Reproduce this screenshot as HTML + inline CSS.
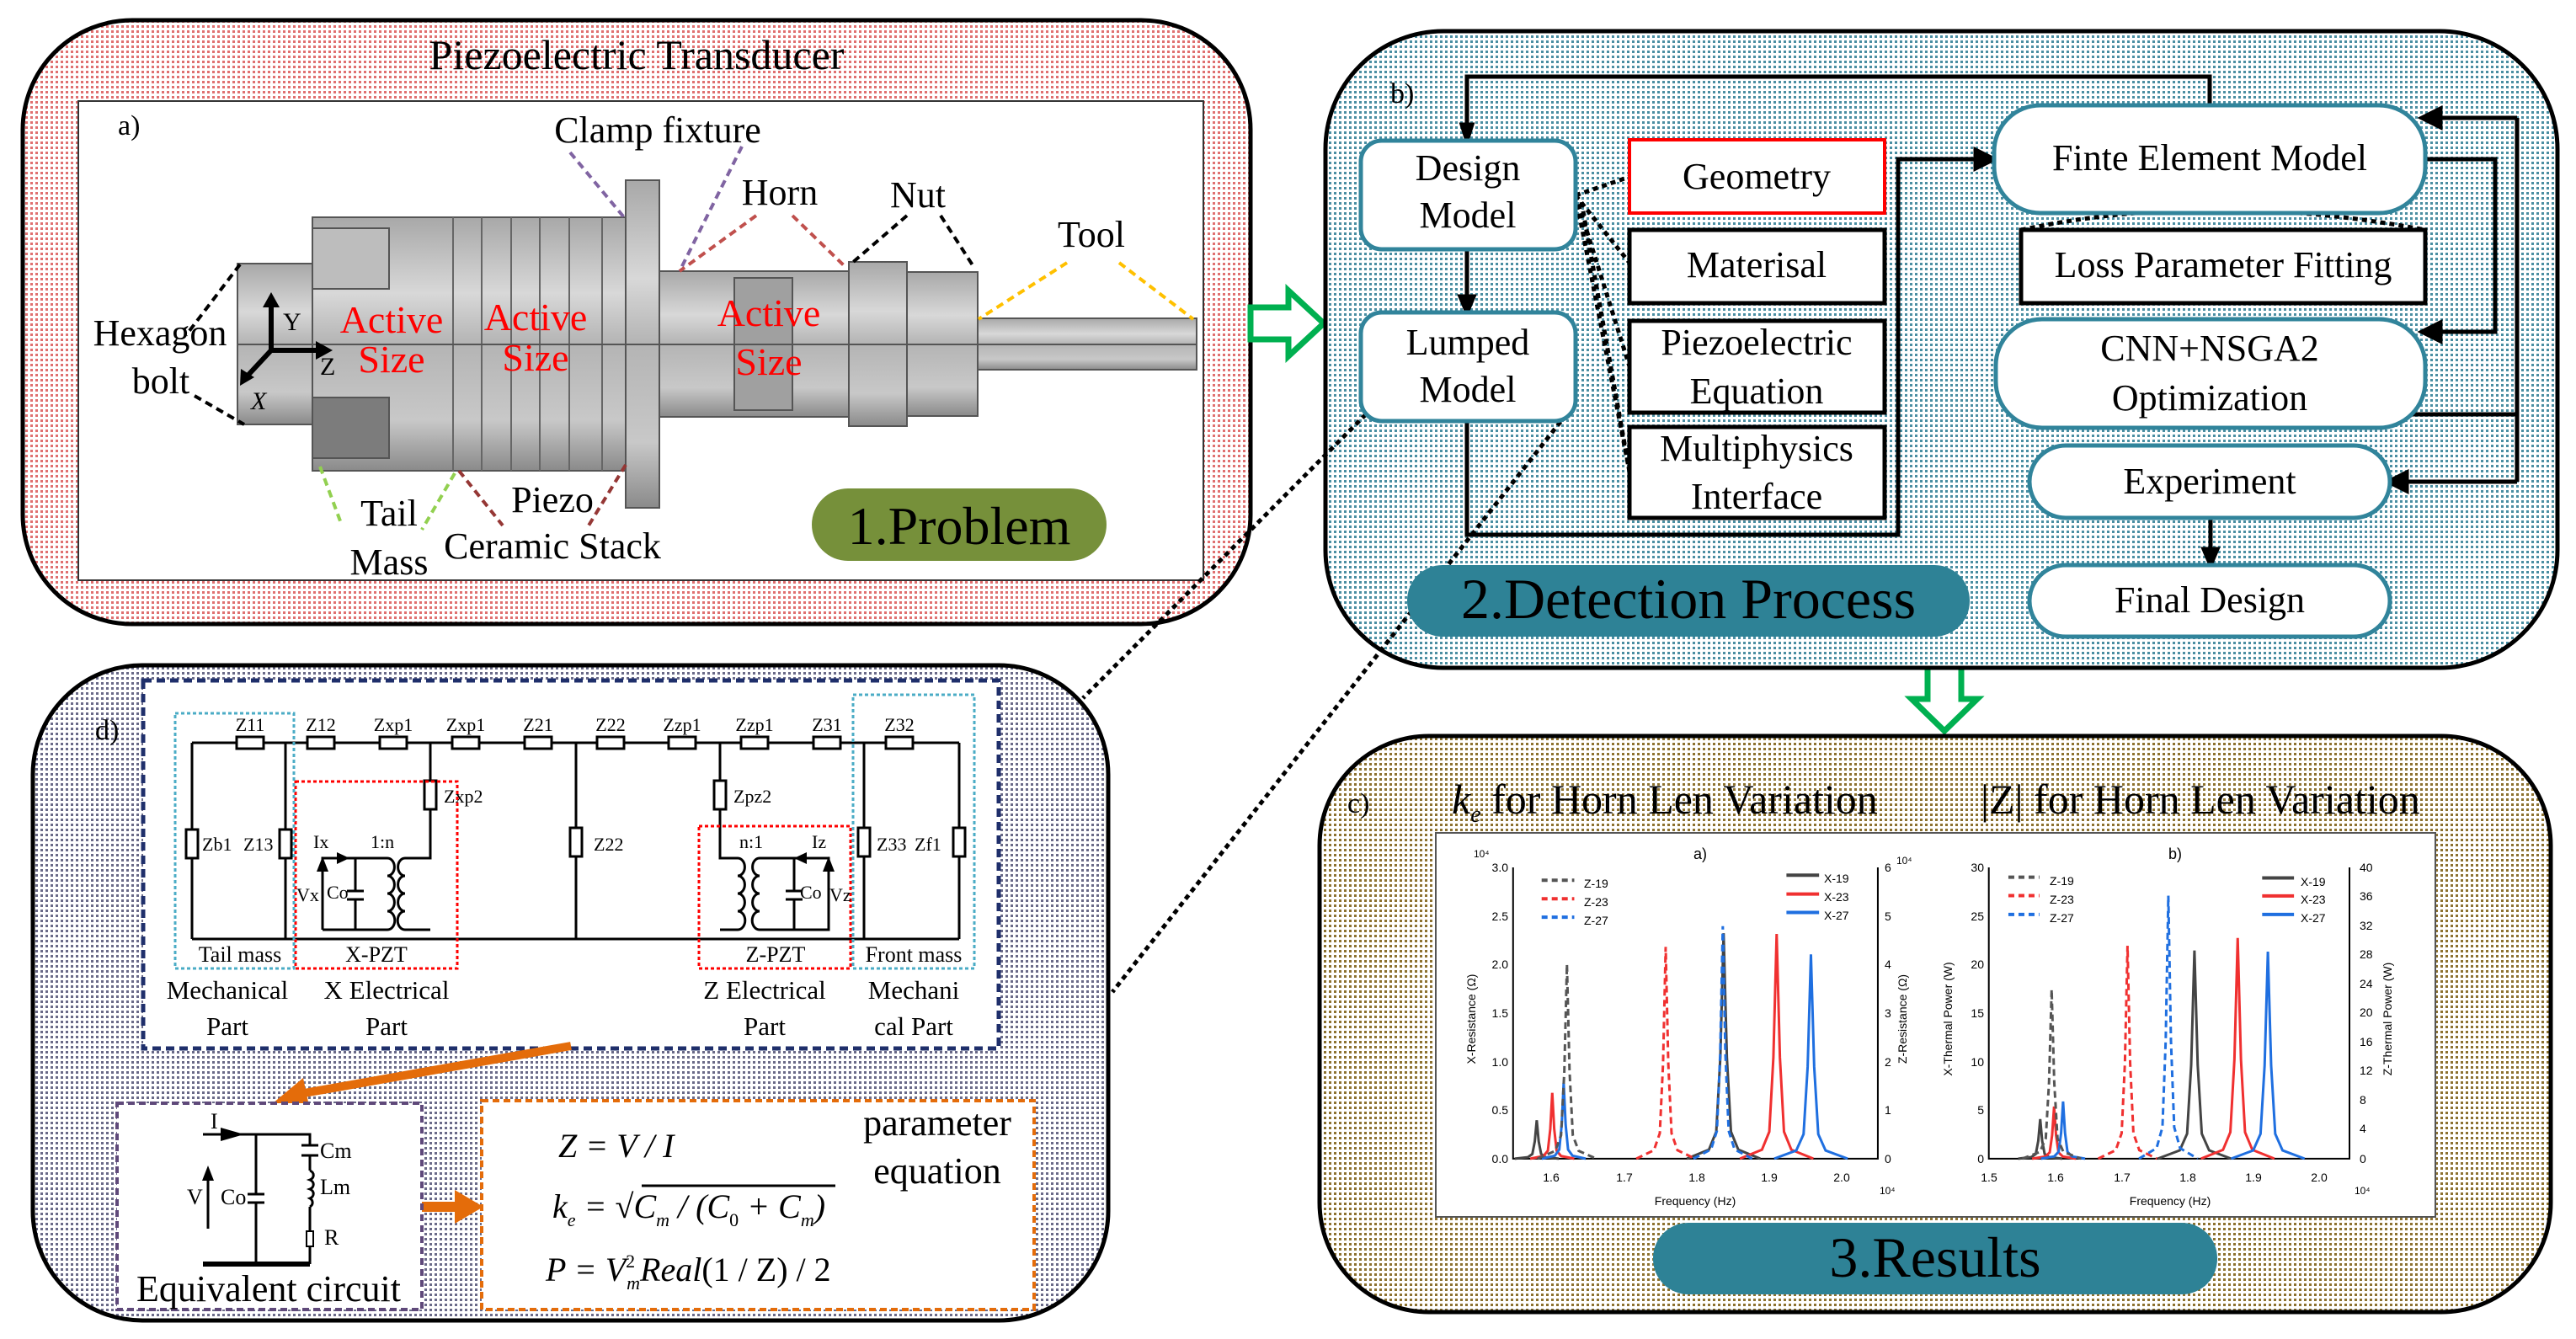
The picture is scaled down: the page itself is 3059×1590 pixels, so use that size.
<!DOCTYPE html>
<html><head><meta charset="utf-8"><style>html,body{margin:0;padding:0;background:#fff}svg{display:block}</style></head>
<body>
<svg xmlns="http://www.w3.org/2000/svg" width="3059" height="1590" viewBox="0 0 3059 1590" font-family="Liberation Serif, serif">
<defs>
<pattern id="p1" width="6" height="6" patternUnits="userSpaceOnUse"><rect width="6" height="6" fill="#fff"/><rect width="3" height="3" fill="#e07070"/></pattern>
<pattern id="p2" width="6" height="6" patternUnits="userSpaceOnUse"><rect width="6" height="6" fill="#fff"/><rect width="3" height="3" fill="#4a8ea2"/></pattern>
<pattern id="p3" width="6" height="6" patternUnits="userSpaceOnUse"><rect width="6" height="6" fill="#fff"/><rect width="3" height="3" fill="#8d7230"/></pattern>
<pattern id="p4" width="6" height="6" patternUnits="userSpaceOnUse"><rect width="6" height="6" fill="#fff"/><rect width="3" height="3" fill="#6a6a88"/></pattern>
<linearGradient id="gm" x1="0" y1="0" x2="0" y2="1"><stop offset="0" stop-color="#a8a8a8"/><stop offset="0.3" stop-color="#d8d8d8"/><stop offset="0.5" stop-color="#b4b4b4"/><stop offset="0.8" stop-color="#c8c8c8"/><stop offset="1" stop-color="#8a8a8a"/></linearGradient>
<path id="pk" d="M-45,0 L-18,-0.04 L-9,-0.12 L-4,-0.45 L0,-1 L4,-0.45 L9,-0.12 L18,-0.04 L45,0" fill="none" vector-effect="non-scaling-stroke"/>
</defs>

<!-- Panel 1 -->
<rect x="27" y="24" width="1458" height="717" rx="130" ry="130" fill="url(#p1)" stroke="#000" stroke-width="5"/>
<text x="756" y="82" font-size="50" text-anchor="middle">Piezoelectric Transducer</text>
<rect x="93" y="120" width="1336" height="569" fill="#fff" stroke="#333" stroke-width="2"/>
<text x="140" y="160" font-size="34">a)</text>
<rect x="282" y="313" width="89" height="191" fill="url(#gm)" stroke="#555" stroke-width="2"/>
<rect x="371" y="258" width="372" height="301" fill="url(#gm)" stroke="#555" stroke-width="2"/>
<rect x="371" y="271" width="91" height="72" fill="#bdbdbd" stroke="#555" stroke-width="2"/>
<rect x="371" y="472" width="91" height="72" fill="#7c7c7c" stroke="#555" stroke-width="2"/>
<g stroke="#666" stroke-width="2"><line x1="538" y1="258" x2="538" y2="559"/><line x1="572" y1="258" x2="572" y2="559"/><line x1="607" y1="258" x2="607" y2="559"/><line x1="641" y1="258" x2="641" y2="559"/><line x1="676" y1="258" x2="676" y2="559"/><line x1="715" y1="258" x2="715" y2="559"/></g>
<rect x="743" y="214" width="40" height="389" fill="url(#gm)" stroke="#555" stroke-width="2"/>
<rect x="783" y="322" width="225" height="173" fill="url(#gm)" stroke="#555" stroke-width="2"/>
<rect x="872" y="330" width="69" height="157" fill="#a0a0a0" stroke="#555" stroke-width="2"/>
<rect x="1008" y="311" width="69" height="195" fill="url(#gm)" stroke="#555" stroke-width="2"/>
<rect x="1077" y="323" width="84" height="171" fill="url(#gm)" stroke="#555" stroke-width="2"/>
<rect x="1161" y="378" width="260" height="61" fill="url(#gm)" stroke="#555" stroke-width="2"/>
<line x1="282" y1="409" x2="1421" y2="409" stroke="#555" stroke-width="2"/>
<line x1="322" y1="416" x2="322" y2="360" stroke="#000" stroke-width="6"/><path d="M312,365 L322,347 L332,365Z"/>
<line x1="322" y1="416" x2="380" y2="416" stroke="#000" stroke-width="6"/><path d="M375,405 L395,416 L375,427Z"/>
<line x1="322" y1="416" x2="295" y2="445" stroke="#000" stroke-width="6"/><path d="M286,438 L285,458 L302,448Z"/>
<text x="336" y="392" font-size="30">Y</text><text x="380" y="445" font-size="30">Z</text><text x="298" y="486" font-size="30" font-style="italic">X</text>
<g fill="#f00" font-size="46" text-anchor="middle"><text x="465" y="395">Active</text><text x="465" y="442">Size</text><text x="636" y="392">Active</text><text x="636" y="440">Size</text><text x="913" y="387">Active</text><text x="913" y="445">Size</text></g>
<g fill="none" stroke-width="4" stroke-dasharray="9,6">
<path d="M677,181 L741,258 M881,174 L807,322" stroke="#8064a2"/>
<path d="M898,256 L807,322 M941,256 L1005,318" stroke="#c0504d"/>
<path d="M1077,256 L1011,313 M1117,256 L1157,318" stroke="#000"/>
<path d="M1267,312 L1162,379 M1329,312 L1417,379" stroke="#ffc000"/>
<path d="M285,314 L221,398 M231,470 L290,504" stroke="#000"/>
<path d="M380,554 L406,624 M540,562 L501,629" stroke="#92d050"/>
<path d="M545,559 L597,624 M743,552 L699,624" stroke="#953735"/>
</g>
<g font-size="44" text-anchor="middle">
<text x="781" y="169">Clamp fixture</text><text x="926" y="243">Horn</text><text x="1090" y="246">Nut</text><text x="1296" y="293">Tool</text>
<text x="190" y="410">Hexagon</text><text x="191" y="467">bolt</text>
<text x="462" y="624">Tail</text><text x="462" y="682">Mass</text>
<text x="656" y="608">Piezo</text><text x="656" y="663">Ceramic Stack</text>
</g>
<rect x="964" y="580" width="350" height="86" rx="43" fill="#76903a"/>
<text x="1139" y="646" font-size="64" text-anchor="middle">1.Problem</text>

<path d="M1485,365 L1530,365 L1530,345 L1572,384 L1530,423 L1530,403 L1485,403 Z" fill="#fff" stroke="#00b050" stroke-width="7"/>
<path d="M2289,790 L2289,830 L2270,830 L2309,868 L2348,830 L2329,830 L2329,790 Z" fill="#fff" stroke="#00b050" stroke-width="7"/>

<!-- Panel 2 -->
<rect x="1574" y="37" width="1463" height="756" rx="140" ry="140" fill="url(#p2)" stroke="#000" stroke-width="5"/>
<text x="1651" y="122" font-size="34">b)</text>
<g fill="none" stroke="#000" stroke-width="5">
<path d="M2624,125 L2624,91 L1742,91 L1742,150" /><path d="M1736,148 L1742,167 L1748,148Z" fill="#000"/>
<path d="M1742,296 L1742,355"/><path d="M1734,352 L1742,371 L1750,352Z" fill="#000"/>
<path d="M1742,500 L1742,635 L2254,635 L2254,189 L2350,189"/><path d="M2346,178 L2368,189 L2346,200Z" fill="#000"/>
<path d="M2880,189 L2963,189 L2963,394 L2895,394"/><path d="M2898,383 L2876,394 L2898,405Z" fill="#000"/>
<path d="M2860,492 L2989,492 M2989,140 L2989,572 M2989,140 L2895,140 M2989,572 L2855,572"/>
<path d="M2898,129 L2876,140 L2898,151Z" fill="#000"/><path d="M2858,561 L2836,572 L2858,583Z" fill="#000"/>
<path d="M2625,615 L2625,655"/><path d="M2617,652 L2625,671 L2633,652Z" fill="#000"/>
</g>
<g fill="none" stroke="#000" stroke-width="5" stroke-dasharray="6,5">
<path d="M1871,232 L1935,210 M1871,232 L1935,312 M1871,232 L1935,435 M1871,232 L1935,560 M1878,240 L1935,560"/>
<path d="M2400,273 Q2625,225 2880,273"/>
<path d="M1622,492 L1286,829"/><path d="M1860,492 L1321,1178"/>
</g>
<g fill="#fff" stroke="#31849b" stroke-width="5">
<rect x="1616" y="167" width="255" height="129" rx="25"/>
<rect x="1616" y="371" width="255" height="129" rx="25"/>
<rect x="2368" y="125" width="512" height="128" rx="55"/>
<rect x="2370" y="379" width="510" height="129" rx="55"/>
<rect x="2410" y="529" width="428" height="86" rx="43"/>
<rect x="2410" y="671" width="428" height="85" rx="43"/>
</g>
<rect x="1935" y="166" width="303" height="87" fill="#fff" stroke="#f00" stroke-width="4"/>
<g fill="#fff" stroke="#000" stroke-width="5">
<rect x="1935" y="273" width="303" height="87"/><rect x="1935" y="381" width="303" height="109"/><rect x="1935" y="507" width="303" height="108"/>
<rect x="2400" y="273" width="480" height="87"/>
</g>
<rect x="1671" y="671" width="668" height="85" rx="42" fill="#2e8296"/>
<g font-size="44" text-anchor="middle">
<text x="1743" y="214">Design</text><text x="1743" y="270">Model</text>
<text x="1743" y="421">Lumped</text><text x="1743" y="477">Model</text>
<text x="2086" y="224">Geometry</text><text x="2086" y="329">Materisal</text>
<text x="2086" y="421">Piezoelectric</text><text x="2086" y="479">Equation</text>
<text x="2086" y="547">Multiphysics</text><text x="2086" y="604">Interface</text>
<text x="2624" y="202">Finte Element Model</text><text x="2640" y="329">Loss Parameter Fitting</text>
<text x="2624" y="428">CNN+NSGA2</text><text x="2624" y="487">Optimization</text>
<text x="2624" y="586">Experiment</text><text x="2624" y="727">Final Design</text>
</g>
<text x="2005" y="734" font-size="68" text-anchor="middle">2.Detection Process</text>

<!-- Panel 3 -->
<rect x="1567" y="874" width="1462" height="684" rx="130" ry="130" fill="url(#p3)" stroke="#000" stroke-width="5"/>
<text x="1600" y="965" font-size="34">c)</text>
<text x="1724" y="966" font-size="50"><tspan font-style="italic">k</tspan><tspan font-size="28" font-style="italic" dy="10">e</tspan><tspan dy="-10"> for Horn Len Variation</tspan></text>
<text x="2352" y="966" font-size="50">|Z| for Horn Len Variation</text>
<rect x="1705" y="989" width="1187" height="456" fill="#fff" stroke="#555" stroke-width="2"/>
<g transform="translate(1540,860) scale(0.969,0.4656)">
<g fill="none" stroke="#000" stroke-width="2">
<path d="M265,365 L265,1108 L712,1108 L712,365" vector-effect="non-scaling-stroke"/>
<path d="M848,365 L848,1108 L1290,1108 L1290,365" vector-effect="non-scaling-stroke"/>
</g>
<g stroke-width="3">
<use href="#pk" transform="translate(294,1108) scale(0.6,98)" stroke="#444"/>
<use href="#pk" transform="translate(523,1108) scale(1,575)" stroke="#444"/>
<use href="#pk" transform="translate(313,1108) scale(0.6,168)" stroke="#f03030"/>
<use href="#pk" transform="translate(588,1108) scale(1,573)" stroke="#f03030"/>
<use href="#pk" transform="translate(327,1108) scale(0.6,193)" stroke="#1f6fe0"/>
<use href="#pk" transform="translate(630,1108) scale(1,521)" stroke="#1f6fe0"/>
<use href="#pk" transform="translate(331,1108) scale(0.8,496)" stroke="#555" stroke-dasharray="8,5"/>
<use href="#pk" transform="translate(452,1108) scale(0.8,540)" stroke="#f03030" stroke-dasharray="8,5"/>
<use href="#pk" transform="translate(522,1108) scale(0.8,593)" stroke="#1f6fe0" stroke-dasharray="8,5"/>
<use href="#pk" transform="translate(911,1108) scale(0.6,101)" stroke="#444"/>
<use href="#pk" transform="translate(1100,1108) scale(1,531)" stroke="#444"/>
<use href="#pk" transform="translate(928,1108) scale(0.6,133)" stroke="#f03030"/>
<use href="#pk" transform="translate(1153,1108) scale(1,563)" stroke="#f03030"/>
<use href="#pk" transform="translate(939,1108) scale(0.6,146)" stroke="#1f6fe0"/>
<use href="#pk" transform="translate(1190,1108) scale(1,528)" stroke="#1f6fe0"/>
<use href="#pk" transform="translate(925,1108) scale(0.8,432)" stroke="#555" stroke-dasharray="8,5"/>
<use href="#pk" transform="translate(1018,1108) scale(0.8,543)" stroke="#f03030" stroke-dasharray="8,5"/>
<use href="#pk" transform="translate(1068,1108) scale(0.8,671)" stroke="#1f6fe0" stroke-dasharray="8,5"/>
</g>
<g stroke-width="4">
<path d="M300,398 L340,398" stroke="#555" stroke-dasharray="7,5" vector-effect="non-scaling-stroke"/>
<path d="M300,445 L340,445" stroke="#f03030" stroke-dasharray="7,5" vector-effect="non-scaling-stroke"/>
<path d="M300,492 L340,492" stroke="#1f6fe0" stroke-dasharray="7,5" vector-effect="non-scaling-stroke"/>
<path d="M600,385 L640,385" stroke="#444" vector-effect="non-scaling-stroke"/>
<path d="M600,433 L640,433" stroke="#f03030" vector-effect="non-scaling-stroke"/>
<path d="M600,480 L640,480" stroke="#1f6fe0" vector-effect="non-scaling-stroke"/>
<path d="M872,390 L910,390" stroke="#555" stroke-dasharray="7,5" vector-effect="non-scaling-stroke"/>
<path d="M872,437 L910,437" stroke="#f03030" stroke-dasharray="7,5" vector-effect="non-scaling-stroke"/>
<path d="M872,485 L910,485" stroke="#1f6fe0" stroke-dasharray="7,5" vector-effect="non-scaling-stroke"/>
<path d="M1183,392 L1222,392" stroke="#444" vector-effect="non-scaling-stroke"/>
<path d="M1183,438 L1222,438" stroke="#f03030" vector-effect="non-scaling-stroke"/>
<path d="M1183,485 L1222,485" stroke="#1f6fe0" vector-effect="non-scaling-stroke"/>
</g>
</g>
<g font-family="Liberation Sans, sans-serif" font-size="14">
<text x="1881" y="1054">Z-19</text><text x="1881" y="1076">Z-23</text><text x="1881" y="1098">Z-27</text>
<text x="2166" y="1048">X-19</text><text x="2166" y="1070">X-23</text><text x="2166" y="1092">X-27</text>
<text x="2434" y="1051">Z-19</text><text x="2434" y="1073">Z-23</text><text x="2434" y="1095">Z-27</text>
<text x="2732" y="1052">X-19</text><text x="2732" y="1073">X-23</text><text x="2732" y="1095">X-27</text>
<text x="2011" y="1020" font-size="18">a)</text><text x="2575" y="1020" font-size="18">b)</text>
<g text-anchor="end"><text x="1791" y="1035">3.0</text><text x="1791" y="1093">2.5</text><text x="1791" y="1150">2.0</text><text x="1791" y="1208">1.5</text><text x="1791" y="1266">1.0</text><text x="1791" y="1323">0.5</text><text x="1791" y="1381">0.0</text>
<text x="2356" y="1035">30</text><text x="2356" y="1093">25</text><text x="2356" y="1150">20</text><text x="2356" y="1208">15</text><text x="2356" y="1266">10</text><text x="2356" y="1323">5</text><text x="2356" y="1381">0</text></g>
<text x="2238" y="1035">6</text><text x="2238" y="1093">5</text><text x="2238" y="1150">4</text><text x="2238" y="1208">3</text><text x="2238" y="1266">2</text><text x="2238" y="1323">1</text><text x="2238" y="1381">0</text>
<text x="2802" y="1035">40</text><text x="2802" y="1069">36</text><text x="2802" y="1104">32</text><text x="2802" y="1138">28</text><text x="2802" y="1173">24</text><text x="2802" y="1207">20</text><text x="2802" y="1242">16</text><text x="2802" y="1276">12</text><text x="2802" y="1311">8</text><text x="2802" y="1345">4</text><text x="2802" y="1381">0</text>
<g text-anchor="middle"><text x="1842" y="1403">1.6</text><text x="1929" y="1403">1.7</text><text x="2015" y="1403">1.8</text><text x="2101" y="1403">1.9</text><text x="2187" y="1403">2.0</text>
<text x="2362" y="1403">1.5</text><text x="2441" y="1403">1.6</text><text x="2520" y="1403">1.7</text><text x="2598" y="1403">1.8</text><text x="2676" y="1403">1.9</text><text x="2754" y="1403">2.0</text>
<text x="2013" y="1431">Frequency (Hz)</text><text x="2577" y="1431">Frequency (Hz)</text></g>
<text x="1750" y="1018" font-size="12">10⁴</text><text x="2252" y="1026" font-size="12">10⁴</text><text x="2232" y="1418" font-size="12">10⁴</text><text x="2796" y="1418" font-size="12">10⁴</text>
<text transform="translate(1752,1210) rotate(-90)" text-anchor="middle">X-Resistance (Ω)</text>
<text transform="translate(2264,1210) rotate(-90)" text-anchor="middle">Z-Resistance (Ω)</text>
<text transform="translate(2318,1210) rotate(-90)" text-anchor="middle">X-Thermal Power (W)</text>
<text transform="translate(2840,1210) rotate(-90)" text-anchor="middle">Z-Thermal Power (W)</text>
</g>
<rect x="1963" y="1452" width="670" height="85" rx="42" fill="#2e8296"/>
<text x="2298" y="1516" font-size="68" text-anchor="middle">3.Results</text>

<!-- Panel 4 -->
<rect x="39" y="790" width="1277" height="778" rx="130" ry="130" fill="url(#p4)" stroke="#000" stroke-width="5"/>
<rect x="170" y="808" width="1016" height="437" fill="#fff" stroke="#1f2f6b" stroke-width="5" stroke-dasharray="10,6"/>
<text x="113" y="878" font-size="34">d)</text>
<g stroke="#000" stroke-width="3" fill="none">
<path d="M228,882 L1139,882 M228,1115 L1139,1115 M228,882 L228,1115 M339,882 L339,1115 M684,882 L684,1115 M1026,882 L1026,1115 M1139,882 L1139,1115"/>
<path d="M511,882 L511,1019 L481,1019 M855,882 L855,1019 L876,1019"/>
<path d="M383,1104 L383,1019 L460,1019 M383,1104 L460,1104 M422,1019 L422,1058 M422,1068 L422,1104"/>
<path d="M412,1058 L432,1058 M412,1068 L432,1068"/>
<path d="M460,1019 a8,10 0 0 1 0,21 a8,10 0 0 1 0,21 a8,10 0 0 1 0,21 a8,10 0 0 1 0,22"/>
<path d="M481,1019 a8,10 0 0 0 0,21 a8,10 0 0 0 0,21 a8,10 0 0 0 0,21 a8,10 0 0 0 0,22 L511,1104"/>
<path d="M876,1019 a8,10 0 0 1 0,21 a8,10 0 0 1 0,21 a8,10 0 0 1 0,21 a8,10 0 0 1 0,22 L855,1104"/>
<path d="M902,1019 a8,10 0 0 0 0,21 a8,10 0 0 0 0,21 a8,10 0 0 0 0,21 a8,10 0 0 0 0,22 L984,1104 L984,1019 L902,1019 M943,1019 L943,1058 M943,1068 L943,1104 M933,1058 L953,1058 M933,1068 L953,1068"/>
</g>
<path d="M383,1104 L383,1030" stroke="#000" stroke-width="3"/><path d="M376,1035 L383,1017 L390,1035Z"/>
<path d="M400,1012 L415,1019 L400,1026Z"/><path d="M958,1012 L943,1019 L958,1026Z"/>
<path d="M977,1035 L984,1017 L991,1035Z"/>
<g fill="#fff" stroke="#000" stroke-width="3">
<rect x="281" y="875" width="32" height="14"/><rect x="365" y="875" width="32" height="14"/><rect x="451" y="875" width="32" height="14"/><rect x="537" y="875" width="32" height="14"/><rect x="623" y="875" width="32" height="14"/><rect x="709" y="875" width="32" height="14"/><rect x="794" y="875" width="32" height="14"/><rect x="880" y="875" width="32" height="14"/><rect x="966" y="875" width="32" height="14"/><rect x="1052" y="875" width="32" height="14"/>
<rect x="221" y="985" width="14" height="34"/><rect x="332" y="985" width="14" height="34"/><rect x="504" y="927" width="14" height="34"/><rect x="677" y="983" width="14" height="34"/><rect x="848" y="927" width="14" height="34"/><rect x="1019" y="983" width="14" height="34"/><rect x="1132" y="983" width="14" height="34"/>
</g>
<g fill="none" stroke-width="3" stroke-dasharray="4,3">
<rect x="351" y="928" width="192" height="222" stroke="#f00"/><rect x="830" y="981" width="180" height="169" stroke="#f00"/>
<rect x="208" y="847" width="141" height="303" stroke="#4bacc6"/><rect x="1013" y="825" width="144" height="325" stroke="#4bacc6"/>
</g>
<g font-size="22" text-anchor="middle">
<text x="297" y="868">Z11</text><text x="381" y="868">Z12</text><text x="467" y="868">Zxp1</text><text x="553" y="868">Zxp1</text><text x="639" y="868">Z21</text><text x="725" y="868">Z22</text><text x="810" y="868">Zzp1</text><text x="896" y="868">Zzp1</text><text x="982" y="868">Z31</text><text x="1068" y="868">Z32</text>
</g>
<g font-size="22">
<text x="527" y="953">Zxp2</text><text x="871" y="953">Zpz2</text><text x="240" y="1010">Zb1</text><text x="289" y="1010">Z13</text><text x="705" y="1010">Z22</text><text x="1041" y="1010">Z33</text><text x="1086" y="1010">Zf1</text>
<text x="372" y="1007">Ix</text><text x="440" y="1007">1:n</text><text x="878" y="1007">n:1</text><text x="964" y="1007">Iz</text>
<text x="352" y="1070">Vx</text><text x="388" y="1067">Co</text><text x="950" y="1067">Co</text><text x="985" y="1070">Vz</text>
</g>
<g font-size="26" text-anchor="middle"><text x="285" y="1142">Tail mass</text><text x="447" y="1142">X-PZT</text><text x="921" y="1142">Z-PZT</text><text x="1085" y="1142">Front mass</text></g>
<g font-size="31" text-anchor="middle">
<text x="270" y="1186">Mechanical</text><text x="270" y="1229">Part</text><text x="459" y="1186">X Electrical</text><text x="459" y="1229">Part</text>
<text x="908" y="1186">Z Electrical</text><text x="908" y="1229">Part</text><text x="1085" y="1186">Mechani</text><text x="1085" y="1229">cal Part</text>
</g>
<path d="M678,1242 L350,1300" stroke="#e46c0a" stroke-width="10"/><path d="M324,1310 L360,1280 L368,1318Z" fill="#e46c0a"/>
<path d="M496,1433 L548,1433" stroke="#e46c0a" stroke-width="12"/><path d="M540,1413 L574,1433 L540,1453Z" fill="#e46c0a"/>
<rect x="139" y="1310" width="362" height="245" fill="#fff" stroke="#5f497a" stroke-width="4" stroke-dasharray="8,5"/>
<rect x="572" y="1307" width="656" height="248" fill="#fff" stroke="#e46c0a" stroke-width="4" stroke-dasharray="8,5"/>
<g stroke="#000" stroke-width="3" fill="none">
<path d="M241,1347 L368,1347 L368,1360 M368,1372 L368,1390 M368,1433 L368,1462 M368,1480 L368,1501 M304,1347 L304,1418 M304,1428 L304,1501"/>
<path d="M358,1360 L378,1360 M358,1372 L378,1372 M294,1418 L314,1418 M294,1428 L314,1428"/>
<path d="M368,1390 a7,6 0 0 1 0,11 a7,6 0 0 1 0,11 a7,6 0 0 1 0,11 a7,6 0 0 1 0,10"/>
<path d="M241,1501 L368,1501" stroke-width="6"/>
<path d="M247,1459 L247,1400"/>
</g>
<rect x="364" y="1462" width="8" height="18" fill="#fff" stroke="#000" stroke-width="2"/>
<path d="M262,1339 L290,1347 L262,1355Z"/><path d="M240,1402 L247,1384 L254,1402Z"/>
<g font-size="26"><text x="250" y="1340">I</text><text x="222" y="1430">V</text><text x="262" y="1430">Co</text><text x="380" y="1375">Cm</text><text x="380" y="1418">Lm</text><text x="385" y="1478">R</text></g>
<text x="319" y="1545" font-size="44" text-anchor="middle">Equivalent circuit</text>
<g font-size="40" font-style="italic">
<text x="663" y="1374">Z = V / I</text>
<text x="656" y="1446">k<tspan font-size="22" dy="10">e</tspan><tspan dy="-10"> = √C</tspan><tspan font-size="22" dy="10">m</tspan><tspan dy="-10"> / (C</tspan><tspan font-size="22" dy="10" font-style="normal">0</tspan><tspan dy="-10"> + C</tspan><tspan font-size="22" dy="10">m</tspan><tspan dy="-10">)</tspan></text>
<text x="648" y="1521">P = V<tspan font-size="22" dy="-16" font-style="normal">2</tspan><tspan font-size="22" dy="26" dx="-10">m</tspan><tspan dy="-10">Real</tspan><tspan font-style="normal">(1 / Z) / 2</tspan></text>
</g>
<path d="M762,1408 L992,1408" stroke="#000" stroke-width="3"/>
<g font-size="44" text-anchor="middle"><text x="1113" y="1348">parameter</text><text x="1113" y="1405">equation</text></g>
</svg>
</body></html>
